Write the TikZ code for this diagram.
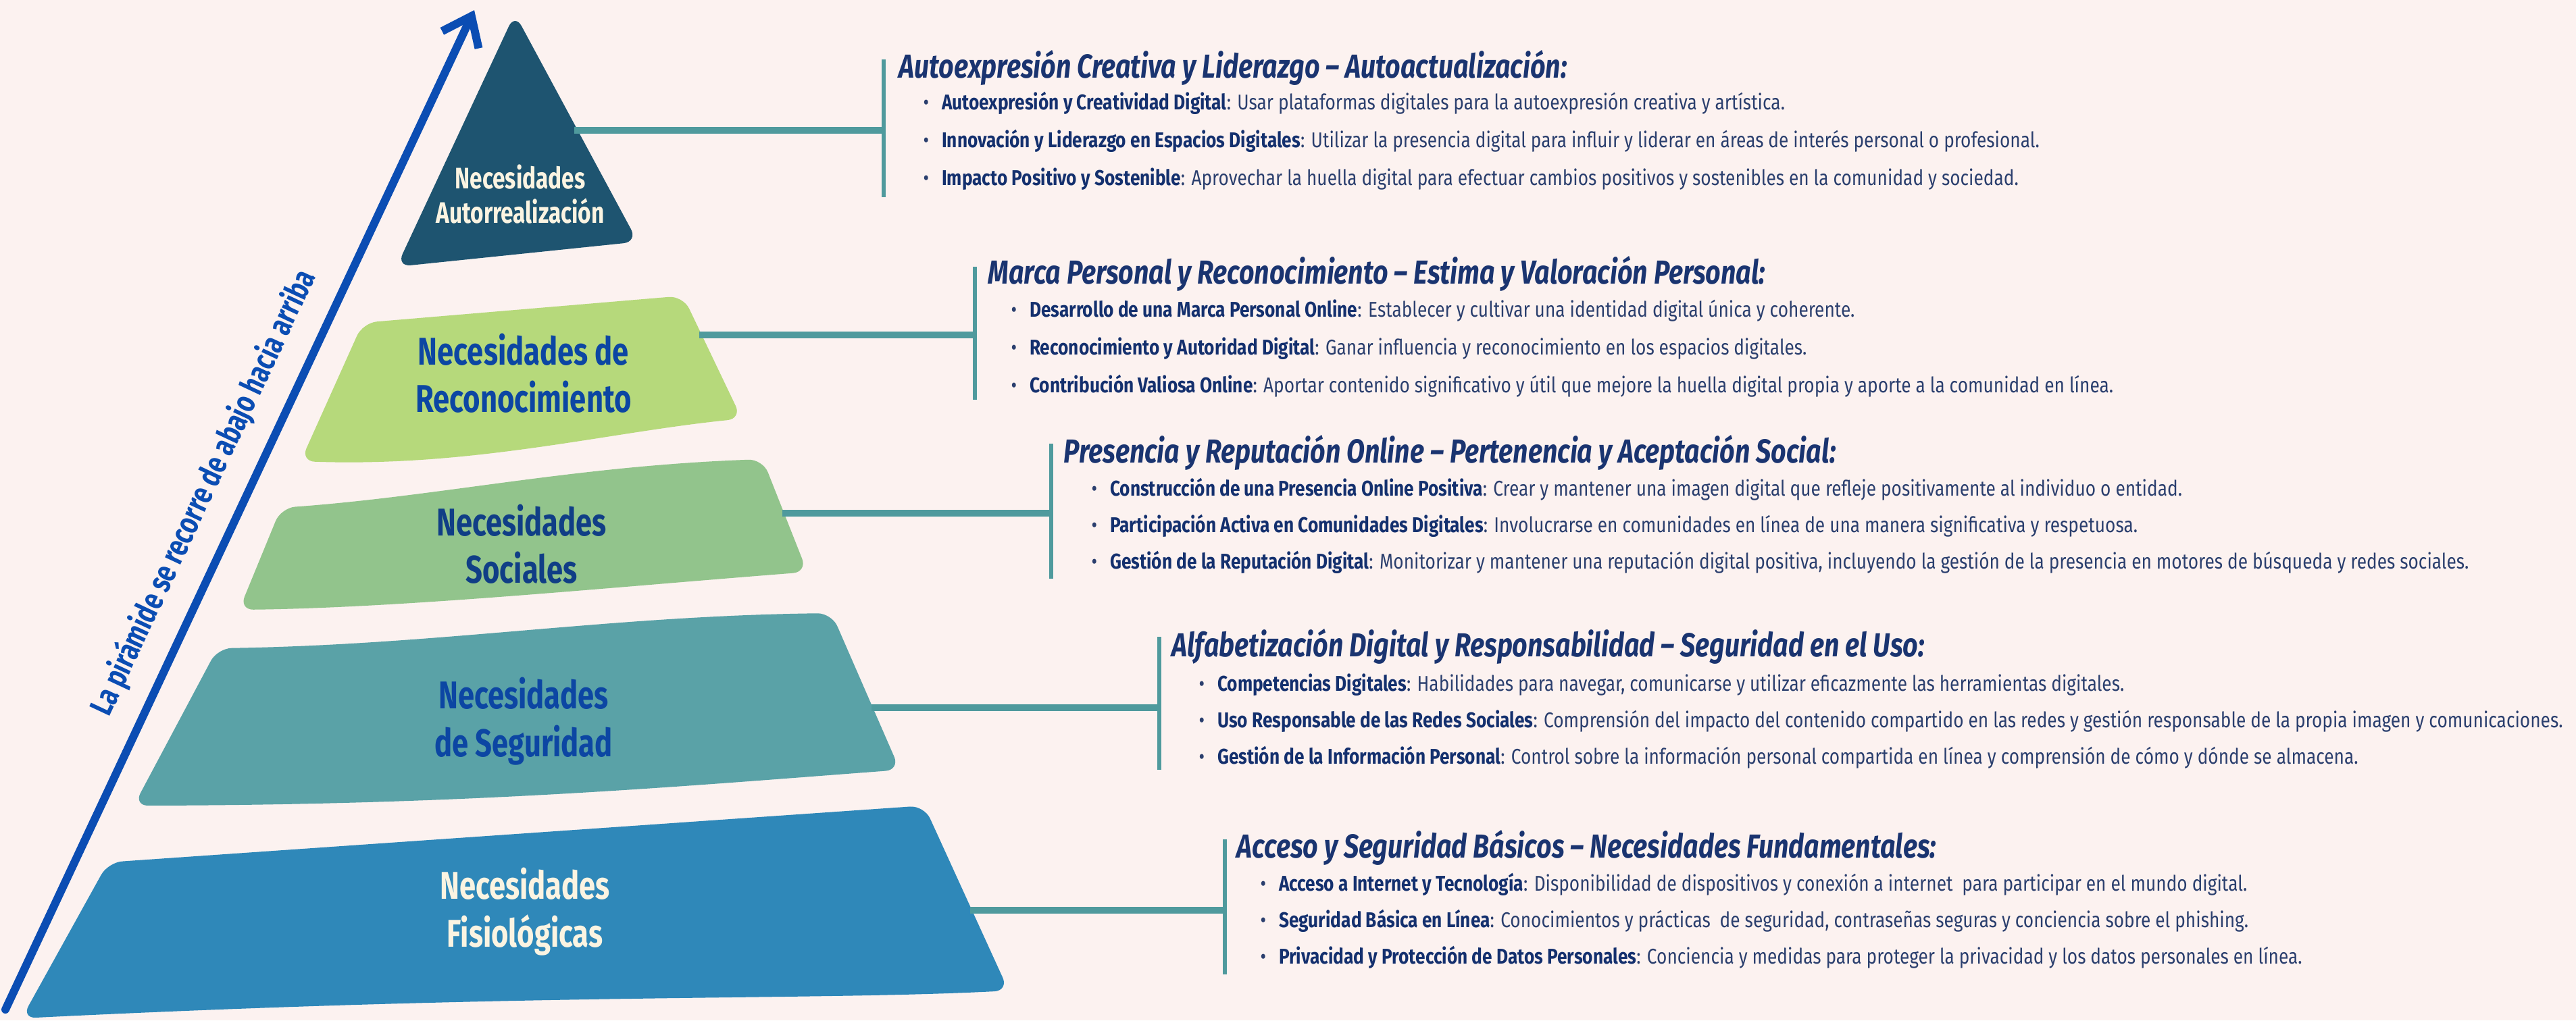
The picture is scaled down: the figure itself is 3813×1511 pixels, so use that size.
\documentclass[tikz,border=0pt]{standalone}
\usepackage{fontspec}
\setmainfont{Fira Sans}
\newfontfamily\condf[FakeStretch=0.76]{Fira Sans}
\newfontfamily\titf[FakeStretch=0.8]{Fira Sans}
\newfontfamily\bodyf[FakeStretch=0.83]{Fira Sans}
\usetikzlibrary{arrows.meta}
\definecolor{bgc}{HTML}{FCF2F0}
\definecolor{tric}{HTML}{1E5470}
\definecolor{ltwo}{HTML}{B6D97B}
\definecolor{lthree}{HTML}{92C48C}
\definecolor{lfour}{HTML}{5AA2A7}
\definecolor{lfive}{HTML}{2F88B9}
\definecolor{lblblue}{HTML}{0C46A3}
\definecolor{lblnavy}{HTML}{103E86}
\definecolor{creamc}{HTML}{FBF4E2}
\definecolor{arrowc}{HTML}{0B4DB3}
\definecolor{connc}{HTML}{4F9A9D}
\definecolor{titlec}{HTML}{1A3470}
\definecolor{bodyc}{HTML}{2B3F6E}
\definecolor{boldc}{HTML}{14306E}
\tikzset{
  layer/.style={rounded corners=6pt},
  lbl/.style={font=\condf\bfseries\fontsize{16.3}{20}\selectfont, align=center, inner sep=0pt},
  tlbl/.style={font=\condf\bfseries\fontsize{12.5}{14.5}\selectfont, align=center, inner sep=0pt, text=creamc},
  conn/.style={draw=connc, line width=2.6pt},
  bar/.style={draw=connc, line width=1.7pt},
  ttl/.style={font=\titf\bfseries\itshape\fontsize{14}{16}\selectfont, text=titlec, anchor=base west, inner sep=0pt},
  itm/.style={font=\bodyf\fontsize{9}{11}\selectfont, text=bodyc, anchor=base west, inner sep=0pt},
}
\newcommand{\itb}[2]{\makebox[7.8pt][l]{\textbullet}{\bfseries\color{boldc}#1}: #2}
\begin{document}
\begin{tikzpicture}[x=0.01cm,y=-0.01cm]
\fill[bgc] (0,0) rectangle (3813,1511);
\useasboundingbox (0,0) rectangle (3813,1511);

% pyramid layers
\fill[tric,layer] (762,20) -- (944,358) -- (587,395) -- cycle;
\fill[ltwo,layer] (537,478) -- (1011,438) -- (1098,620) .. controls (900,640) and (700,692) .. (445,683) -- cycle;
\fill[lthree,layer] (416,752) .. controls (650,735) and (850,690) .. (1129,680) -- (1195,847) .. controls (900,870) and (600,900) .. (354,903) -- cycle;
\fill[lfour,layer] (322,960) .. controls (650,955) and (900,912) .. (1231,908) -- (1332,1140) .. controls (1000,1165) and (700,1192) .. (198,1193) -- cycle;
\fill[lfive,layer] (160,1277) -- (1368,1193) -- (1493,1467) .. controls (1200,1482) and (800,1470) .. (32,1508) -- cycle;

% labels
\node[tlbl] (n1) at (770,288) {Necesidades\\Autorrealización};
\node[lbl,text=lblblue] (n2) at (775,553) {Necesidades de\\Reconocimiento};
\node[lbl,text=lblnavy] (n3) at (772,806) {Necesidades\\Sociales};
\node[lbl,text=lblblue] (n4) at (775,1068) {Necesidades\\de Seguridad};
\node[lbl,text=creamc] (n5) at (777,1350) {Necesidades\\Fisiológicas};

% arrow
\coordinate (arrS) at (8,1495);
\coordinate (arrE) at (702,15);
\draw[arrowc, line width=3.4pt, line cap=round, -{Straight Barb[length=11pt,width=17pt]}] (arrS) -- (arrE)
  node[pos=0.50, sloped, above=8pt, font=\condf\bfseries\fontsize{13.5}{15}\selectfont, text=arrowc, inner sep=0pt] (arrlbl) {La pirámide se recorre de abajo hacia arriba};

% connector anchors
\coordinate (c1) at (850,193);  \coordinate (b1t) at (1308,88);  \coordinate (b1b) at (1308,292);
\coordinate (c2) at (1035,496); \coordinate (b2t) at (1443,395); \coordinate (b2b) at (1443,592);
\coordinate (c3) at (1158,760); \coordinate (b3t) at (1556,657); \coordinate (b3b) at (1556,857);
\coordinate (c4) at (1290,1048);\coordinate (b4t) at (1716,943); \coordinate (b4b) at (1716,1140);
\coordinate (c5) at (1436,1348);\coordinate (b5t) at (1813,1243);\coordinate (b5b) at (1813,1443);
\draw[conn] (c1) -- (c1 -| b1t); \draw[bar] (b1t) -- (b1b);
\draw[conn] (c2) -- (c2 -| b2t); \draw[bar] (b2t) -- (b2b);
\draw[conn] (c3) -- (c3 -| b3t); \draw[bar] (b3t) -- (b3b);
\draw[conn] (c4) -- (c4 -| b4t); \draw[bar] (b4t) -- (b4b);
\draw[conn] (c5) -- (c5 -| b5t); \draw[bar] (b5t) -- (b5b);

% block 1
\node[ttl] (t1) at (1330,115) {Autoexpresión Creativa y Liderazgo – Autoactualización:};
\node[itm] (t1a) at (1366,162) {\itb{Autoexpresión y Creatividad Digital}{Usar plataformas digitales para la autoexpresión creativa y artística.}};
\node[itm] (t1b) at (1366,218) {\itb{Innovación y Liderazgo en Espacios Digitales}{Utilizar la presencia digital para influir y liderar en áreas de interés personal o profesional.}};
\node[itm] (t1c) at (1366,274) {\itb{Impacto Positivo y Sostenible}{Aprovechar la huella digital para efectuar cambios positivos y sostenibles en la comunidad y sociedad.}};

% block 2
\node[ttl] (t2) at (1462,420) {Marca Personal y Reconocimiento – Estima y Valoración Personal:};
\node[itm] (t2a) at (1496,469) {\itb{Desarrollo de una Marca Personal Online}{Establecer y cultivar una identidad digital única y coherente.}};
\node[itm] (t2b) at (1496,525) {\itb{Reconocimiento y Autoridad Digital}{Ganar influencia y reconocimiento en los espacios digitales.}};
\node[itm] (t2c) at (1496,581) {\itb{Contribución Valiosa Online}{Aportar contenido significativo y útil que mejore la huella digital propia y aporte a la comunidad en línea.}};

% block 3
\node[ttl] (t3) at (1574,685) {Presencia y Reputación Online – Pertenencia y Aceptación Social:};
\node[itm] (t3a) at (1615,734) {\itb{Construcción de una Presencia Online Positiva}{Crear y mantener una imagen digital que refleje positivamente al individuo o entidad.}};
\node[itm] (t3b) at (1615,788) {\itb{Participación Activa en Comunidades Digitales}{Involucrarse en comunidades en línea de una manera significativa y respetuosa.}};
\node[itm] (t3c) at (1615,842) {\itb{Gestión de la Reputación Digital}{Monitorizar y mantener una reputación digital positiva, incluyendo la gestión de la presencia en motores de búsqueda y redes sociales.}};

% block 4
\node[ttl] (t4) at (1734,972) {Alfabetización Digital y Responsabilidad – Seguridad en el Uso:};
\node[itm] (t4a) at (1774,1023) {\itb{Competencias Digitales}{Habilidades para navegar, comunicarse y utilizar eficazmente las herramientas digitales.}};
\node[itm] (t4b) at (1774,1077) {\itb{Uso Responsable de las Redes Sociales}{Comprensión del impacto del contenido compartido en las redes y gestión responsable de la propia imagen y comunicaciones.}};
\node[itm] (t4c) at (1774,1131) {\itb{Gestión de la Información Personal}{Control sobre la información personal compartida en línea y comprensión de cómo y dónde se almacena.}};

% block 5
\node[ttl] (t5) at (1830,1270) {Acceso y Seguridad Básicos – Necesidades Fundamentales:};
\node[itm] (t5a) at (1865,1319) {\itb{Acceso a Internet y Tecnología}{Disponibilidad de dispositivos y conexión a internet~ para participar en el mundo digital.}};
\node[itm] (t5b) at (1865,1373) {\itb{Seguridad Básica en Línea}{Conocimientos y prácticas~ de seguridad, contraseñas seguras y conciencia sobre el phishing.}};
\node[itm] (t5c) at (1865,1427) {\itb{Privacidad y Protección de Datos Personales}{Conciencia y medidas para proteger la privacidad y los datos personales en línea.}};
\end{tikzpicture}
\end{document}
